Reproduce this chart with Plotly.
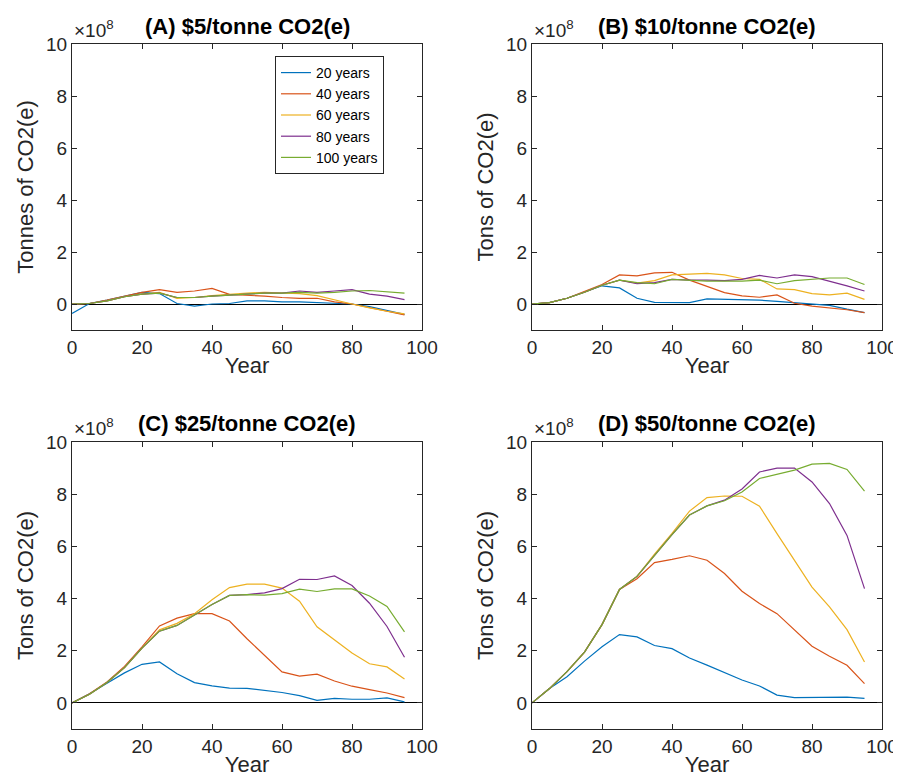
import plotly.graph_objects as go

# years since start, values in units of 1e8 tonnes CO2(e)
years = [0, 5, 10, 15, 20, 25, 30, 35, 40, 45, 50, 55, 60, 65, 70, 75, 80, 85, 90, 95]
series_names = ["20 years", "40 years", "60 years", "80 years", "100 years"]
panel_titles = ["(A) $5/tonne CO2(e)", "(B) $10/tonne CO2(e)",
                "(C) $25/tonne CO2(e)", "(D) $50/tonne CO2(e)"]
y_titles = ["Tonnes of CO2(e)", "Tons of CO2(e)", "Tons of CO2(e)", "Tons of CO2(e)"]
x_ticks = [0, 20, 40, 60, 80, 100]
y_ticks = [0, 2, 4, 6, 8, 10]

# (A) $5
a_20 = [-0.36, 0.02, 0.15, 0.3, 0.45, 0.4, 0.02, -0.08, 0.0, 0.02, 0.12, 0.12, 0.08, 0.08, 0.05, 0.03, 0.0, -0.1, -0.25, -0.4]
a_40 = [0, 0.02, 0.15, 0.3, 0.45, 0.55, 0.45, 0.5, 0.6, 0.37, 0.34, 0.3, 0.25, 0.22, 0.22, 0.08, 0.0, -0.15, -0.28, -0.42]
a_60 = [0, 0.02, 0.12, 0.28, 0.38, 0.45, 0.22, 0.25, 0.32, 0.38, 0.42, 0.45, 0.42, 0.4, 0.32, 0.15, 0.0, -0.15, -0.28, -0.38]
a_80 = [0, 0.02, 0.12, 0.28, 0.38, 0.42, 0.25, 0.25, 0.3, 0.35, 0.38, 0.42, 0.42, 0.5, 0.45, 0.5, 0.55, 0.38, 0.3, 0.17]
a_100 = [0, 0.02, 0.12, 0.28, 0.38, 0.42, 0.25, 0.25, 0.3, 0.35, 0.38, 0.42, 0.42, 0.45, 0.42, 0.45, 0.5, 0.52, 0.48, 0.42]

# (B) $10
b_20 = [0, 0.05, 0.22, 0.45, 0.7, 0.62, 0.22, 0.06, 0.05, 0.05, 0.2, 0.18, 0.15, 0.15, 0.1, 0.05, 0.0, -0.05, -0.2, -0.33]
b_40 = [0, 0.05, 0.22, 0.47, 0.75, 1.12, 1.08, 1.2, 1.22, 0.92, 0.67, 0.44, 0.31, 0.26, 0.35, 0.03, -0.08, -0.15, -0.22, -0.33]
b_60 = [0, 0.05, 0.22, 0.45, 0.72, 0.92, 0.8, 0.9, 1.12, 1.15, 1.18, 1.12, 0.98, 0.95, 0.58, 0.55, 0.4, 0.35, 0.42, 0.18]
b_80 = [0, 0.05, 0.22, 0.45, 0.72, 0.92, 0.78, 0.82, 0.95, 0.92, 0.92, 0.9, 0.95, 1.1, 1.0, 1.12, 1.05, 0.88, 0.7, 0.5]
b_100 = [0, 0.05, 0.22, 0.45, 0.72, 0.92, 0.82, 0.78, 0.95, 0.92, 0.88, 0.88, 0.88, 0.92, 0.78, 0.9, 0.95, 1.0, 1.0, 0.75]

# (C) $25
c_20 = [0, 0.35, 0.75, 1.15, 1.48, 1.57, 1.12, 0.78, 0.65, 0.57, 0.56, 0.49, 0.4, 0.28, 0.1, 0.17, 0.14, 0.14, 0.19, 0.04]
c_40 = [0, 0.35, 0.8, 1.4, 2.15, 2.95, 3.25, 3.42, 3.42, 3.14, 2.46, 1.83, 1.19, 1.03, 1.1, 0.84, 0.64, 0.51, 0.38, 0.2]
c_60 = [0, 0.33, 0.78, 1.35, 2.1, 2.8, 3.05, 3.42, 3.95, 4.42, 4.55, 4.55, 4.4, 3.9, 2.92, 2.42, 1.91, 1.5, 1.38, 0.92]
c_80 = [0, 0.33, 0.78, 1.35, 2.1, 2.75, 2.97, 3.38, 3.77, 4.12, 4.15, 4.22, 4.38, 4.74, 4.73, 4.87, 4.5, 3.82, 2.93, 1.75]
c_100 = [0, 0.33, 0.78, 1.35, 2.1, 2.75, 2.97, 3.38, 3.77, 4.12, 4.15, 4.13, 4.19, 4.36, 4.27, 4.37, 4.37, 4.1, 3.7, 2.72]

# (D) $50
d_20 = [0, 0.55, 1.0, 1.6, 2.15, 2.62, 2.53, 2.2, 2.08, 1.72, 1.45, 1.18, 0.88, 0.65, 0.3, 0.2, 0.21, 0.22, 0.22, 0.17]
d_40 = [0, 0.55, 1.2, 1.95, 3.0, 4.35, 4.76, 5.38, 5.5, 5.64, 5.47, 4.96, 4.28, 3.81, 3.42, 2.78, 2.17, 1.79, 1.44, 0.74]
d_60 = [0, 0.55, 1.2, 1.95, 3.0, 4.35, 4.85, 5.7, 6.5, 7.35, 7.87, 7.93, 7.92, 7.54, 6.49, 5.47, 4.44, 3.68, 2.81, 1.57]
d_80 = [0, 0.55, 1.2, 1.95, 3.0, 4.35, 4.85, 5.65, 6.45, 7.2, 7.55, 7.77, 8.2, 8.85, 9.0, 9.0, 8.47, 7.64, 6.42, 4.38]
d_100 = [0, 0.55, 1.2, 1.95, 3.0, 4.35, 4.85, 5.65, 6.45, 7.2, 7.55, 7.75, 8.08, 8.6, 8.75, 8.92, 9.15, 9.18, 8.95, 8.12]

panels = [
    [a_20, a_40, a_60, a_80, a_100],
    [b_20, b_40, b_60, b_80, b_100],
    [c_20, c_40, c_60, c_80, c_100],
    [d_20, d_40, d_60, d_80, d_100],
]

colors = ['#0072BD', '#D95319', '#EDB120', '#7E2F8E', '#77AC30']  # matlab default order
OFF = 8  # the page body has an 8px margin, so the figure starts at (8, 8)
W, H = 901 - OFF, 778 - OFF
FONT = "Liberation Sans, Arial, Helvetica, sans-serif"
GREY = "#262626"


def fx(px):
    return (px - OFF) / W


def fy(py):
    return 1 - (py - OFF) / H


# axes boxes in window pixels: (left, right, top, bottom)
boxes = [(72, 422, 44, 330), (532, 882, 44, 330),
         (72, 422, 442, 729), (532, 882, 442, 729)]

fig = go.Figure()
annotations = []
layout_axes = {}

for p, (series, box) in enumerate(zip(panels, boxes)):
    n = "" if p == 0 else str(p + 1)
    for i, vals in enumerate(series):
        fig.add_trace(go.Scatter(
            x=years, y=vals, mode="lines", name=series_names[i],
            line=dict(color=colors[i], width=1.2),
            xaxis="x" + n, yaxis="y" + n, showlegend=(p == 0)))

    l, r, t, b = box
    layout_axes["xaxis" + n] = dict(
        domain=[fx(l), fx(r)], anchor="y" + n, range=[0, 100], automargin=False,
        tickvals=x_ticks, ticks="inside", ticklen=5, tickcolor=GREY,
        showline=True, linecolor=GREY, linewidth=1, mirror="ticks",
        showgrid=False, zeroline=False,
        tickfont=dict(size=19, color=GREY, family=FONT),
        title=dict(text="Year", font=dict(size=22, color=GREY, family=FONT), standoff=0))
    layout_axes["yaxis" + n] = dict(
        domain=[fy(b), fy(t)], anchor="x" + n, range=[-1, 10], automargin=False,
        tickvals=y_ticks, ticks="inside", ticklen=5, tickcolor=GREY,
        showline=True, linecolor=GREY, linewidth=1, mirror="ticks",
        showgrid=False, zeroline=True, zerolinecolor="black", zerolinewidth=1,
        tickfont=dict(size=19, color=GREY, family=FONT),
        title=dict(text=y_titles[p], font=dict(size=22, color=GREY, family=FONT), standoff=6))

    annotations.append(dict(
        text="<b>" + panel_titles[p] + "</b>", xref="paper", yref="paper",
        x=fx((l + r) / 2), y=fy(t - 18), xanchor="center", yanchor="middle",
        showarrow=False, font=dict(size=22, color="black", family=FONT)))
    annotations.append(dict(
        text="×10<sup>8</sup>", xref="paper", yref="paper",
        x=fx(l), y=fy(t - 1), xanchor="left", yanchor="bottom",
        showarrow=False, font=dict(size=19, color=GREY, family=FONT)))

fig.update_layout(
    width=W, height=H,
    margin=dict(l=0, r=0, t=0, b=0),
    paper_bgcolor="white", plot_bgcolor="white",
    font=dict(family=FONT, color=GREY),
    annotations=annotations,
    legend=dict(
        x=fx(275), y=fy(56), xanchor="left", yanchor="top",
        bgcolor="white", bordercolor=GREY, borderwidth=1,
        font=dict(size=14, color="black", family=FONT),
        tracegroupgap=0),
    **layout_axes,
)

fig.write_html("out.html")
